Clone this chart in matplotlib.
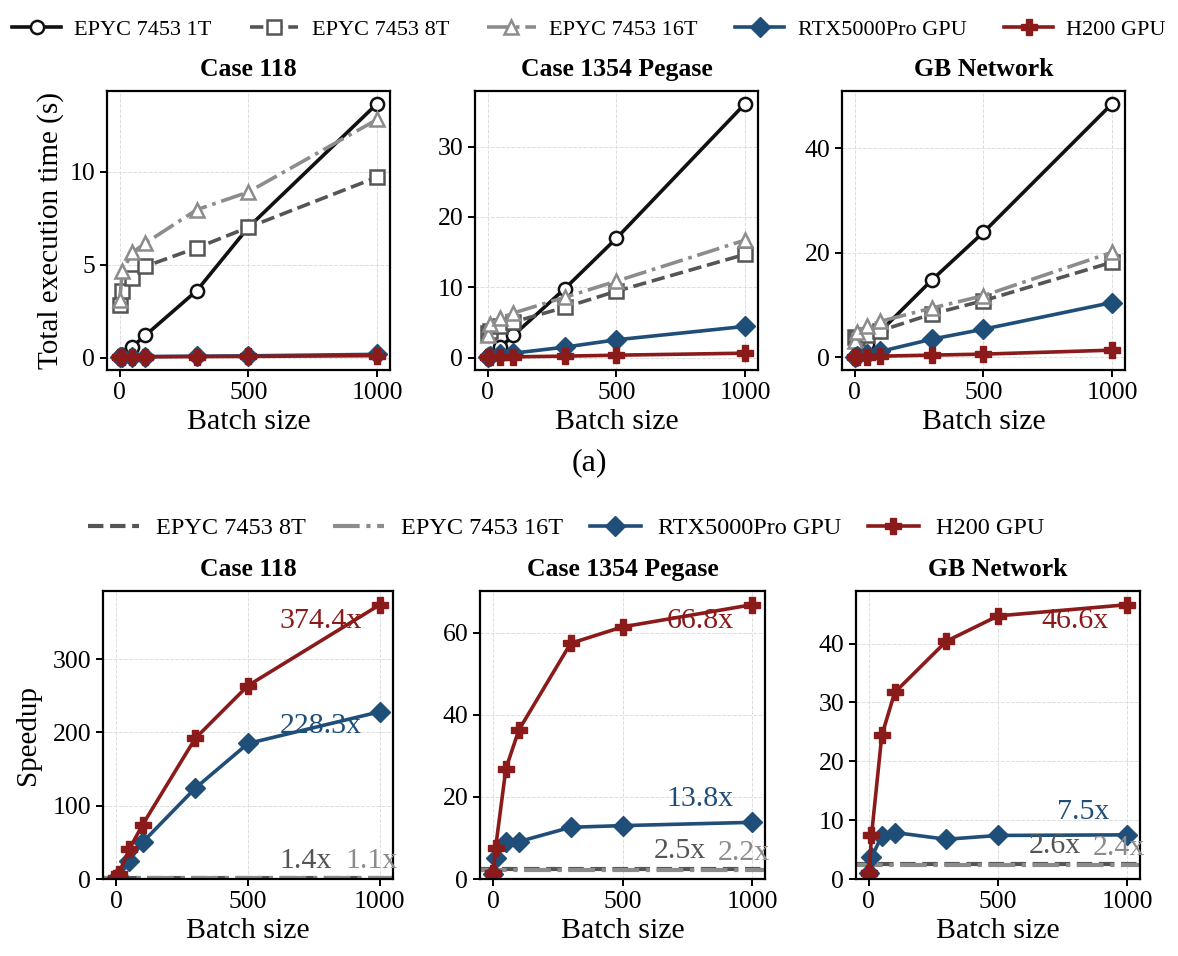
import numpy as np
import matplotlib
matplotlib.use("Agg")
from matplotlib import pyplot as plt
from matplotlib.ticker import MultipleLocator

plt.rcParams['font.family'] = 'serif'
plt.rcParams['font.serif'] = ['Liberation Serif', 'DejaVu Serif']
plt.rcParams['axes.linewidth'] = 1.6

# ---- data ----
batch = [1, 10, 50, 100, 300, 500, 1000]
cases = ['Case 118', 'Case 1354 Pegase', 'GB Network']
labels = ['EPYC 7453 1T', 'EPYC 7453 8T', 'EPYC 7453 16T', 'RTX5000Pro GPU', 'H200 GPU']

# total execution time (s), one row per case
time_1t = [[0.03, 0.12, 0.59, 1.19, 3.6, 7.0, 13.65],
           [0.04, 0.3, 1.48, 3.14, 9.8, 16.95, 36.1],
           [0.05, 0.5, 2.55, 5.0, 14.8, 23.9, 48.5]]
time_8t = [[2.85, 3.6, 4.25, 4.9, 5.9, 7.0, 9.7],
           [3.5, 3.8, 4.43, 5.05, 7.14, 9.43, 14.67],
           [3.9, 3.7, 4.3, 5.1, 8.3, 10.85, 18.2]]
time_16t = [[3.1, 4.65, 5.65, 6.15, 7.95, 8.9, 12.8],
            [3.2, 4.76, 5.62, 6.33, 8.57, 10.86, 16.7],
            [3.2, 4.9, 6.06, 6.9, 9.45, 11.8, 20.1]]
time_rtx = [[0.02, 0.03, 0.04, 0.05, 0.07, 0.09, 0.17],
            [0.05, 0.2, 0.45, 0.62, 1.48, 2.52, 4.43],
            [0.05, 0.3, 0.6, 1.15, 3.5, 5.4, 10.5]]
time_h200 = [[0.01, 0.02, 0.03, 0.04, 0.05, 0.06, 0.1],
             [0.03, 0.05, 0.08, 0.1, 0.2, 0.33, 0.62],
             [0.03, 0.1, 0.15, 0.25, 0.45, 0.64, 1.4]]

# speedup over 1 thread
speed_rtx = [[0.5, 2.5, 25, 50, 124, 185, 228.3],
             [1.2, 5.0, 8.9, 9.1, 12.6, 13.0, 13.8],
             [1.0, 3.7, 7.3, 7.9, 6.75, 7.4, 7.5]]
speed_h200 = [[1.0, 7.5, 41, 74, 192, 264, 374.4],
              [1.4, 7.5, 26.9, 36.3, 57.4, 61.4, 66.8],
              [1.0, 7.4, 24.4, 31.7, 40.4, 44.7, 46.6]]
speed_8t = [1.4, 2.5, 2.6]
speed_16t = [1.1, 2.2, 2.4]

# ---- styles ----
c_1t, c_8t, c_16t = '#111111', '#555555', '#8c8c8c'
c_rtx, c_h200 = '#1f4e79', '#8b1a1a'
lw = 2.6
st_1t = dict(color=c_1t, ls='-', lw=lw, marker='o', ms=9.5, mfc='white', mec=c_1t, mew=1.8)
st_8t = dict(color=c_8t, ls='--', lw=lw, marker='s', ms=9.5, mfc='white', mec=c_8t, mew=1.8)
st_16t = dict(color=c_16t, ls='-.', lw=lw, marker='^', ms=10.5, mfc='white', mec=c_16t, mew=1.8)
st_rtx = dict(color=c_rtx, ls='-', lw=lw, marker='D', ms=10, mfc=c_rtx, mec=c_rtx)
st_h200 = dict(color=c_h200, ls='-', lw=lw, marker='P', ms=11, mfc=c_h200, mec=c_h200)

W, H = 1178, 956
fig = plt.figure(figsize=(W / 100, H / 100), dpi=100)

def px_axes(l, t, r, b):
    return fig.add_axes([l / W, 1 - b / H, (r - l) / W, (b - t) / H])

def style_ax(ax):
    ax.grid(True, color='#dddddd', ls='--', lw=0.7)
    ax.set_axisbelow(True)
    ax.tick_params(direction='out', length=5, width=1.4, labelsize=18.5)
    ax.xaxis.set_major_locator(MultipleLocator(500))
    ax.set_xlabel('Batch size', fontsize=21.5)

top_box = [(107, 91, 390, 370), (475, 91, 758, 370), (842, 91, 1125, 370)]
bot_box = [(103, 591, 393, 879), (480, 591, 765, 879), (856, 591, 1140, 879)]
top_step = [5, 10, 20]
bot_step = [100, 20, 10]
rtx_above = [False, True, True]

for i, case in enumerate(cases):
    ax = px_axes(*top_box[i])
    ax.plot(batch, time_1t[i], label=labels[0], **st_1t)
    ax.plot(batch, time_8t[i], label=labels[1], **st_8t)
    ax.plot(batch, time_16t[i], label=labels[2], **st_16t)
    ax.plot(batch, time_rtx[i], label=labels[3], **st_rtx)
    ax.plot(batch, time_h200[i], label=labels[4], **st_h200)
    style_ax(ax)
    ax.yaxis.set_major_locator(MultipleLocator(top_step[i]))
    ax.set_title(case, fontsize=18.5, fontweight='bold', pad=11)
    if i == 0:
        ax.set_ylabel('Total execution time (s)', fontsize=21)
        h_top, l_top = ax.get_legend_handles_labels()

    ax = px_axes(*bot_box[i])
    ax.axhline(speed_8t[i], color=c_8t, ls='--', lw=3.0, label=labels[1])
    ax.axhline(speed_16t[i], color=c_16t, ls='-.', lw=3.0, label=labels[2])
    ax.plot(batch, speed_rtx[i], label=labels[3], **st_rtx)
    ax.plot(batch, speed_h200[i], label=labels[4], **st_h200)
    style_ax(ax)
    ax.set_xlim(-50, 1050)
    ax.set_ylim(0, max(speed_h200[i]) * 1.05)
    ymax = ax.get_ylim()[1]
    ax.yaxis.set_major_locator(MultipleLocator(bot_step[i]))
    ax.set_title(case, fontsize=18.5, fontweight='bold', pad=11)

    fs = 21.5
    ax.text(930, speed_h200[i][-1] - 0.055 * ymax, f'{speed_h200[i][-1]:.1f}x',
            color=c_h200, ha='right', va='center', fontsize=fs)
    off = 0.08 if rtx_above[i] else -0.05
    ax.text(930, speed_rtx[i][-1] + off * ymax, f'{speed_rtx[i][-1]:.1f}x',
            color=c_rtx, ha='right', va='center', fontsize=fs)
    ax.text(720, speed_8t[i] + 0.06 * ymax, f'{speed_8t[i]:.1f}x',
            color=c_8t, ha='center', va='center', fontsize=fs)
    ax.text(970, speed_16t[i] + 0.06 * ymax, f'{speed_16t[i]:.1f}x',
            color=c_16t, ha='center', va='center', fontsize=fs)
    if i == 0:
        ax.set_ylabel('Speedup', fontsize=21, labelpad=8)
        h_bot, l_bot = ax.get_legend_handles_labels()

fig.legend(h_top, l_top, loc='center', bbox_to_anchor=(0.5, 1 - 30 / H), ncol=5,
           frameon=False, fontsize=16, handlelength=2.2, handletextpad=0.6,
           columnspacing=1.7)
fig.legend(h_bot, l_bot, loc='center', bbox_to_anchor=(566 / W, 1 - 528 / H), ncol=4,
           frameon=False, fontsize=17.5, handlelength=2.1, handletextpad=0.7,
           columnspacing=1.1)
fig.text(0.5, 1 - 463 / H, '(a)', ha='center', va='center', fontsize=23)

fig.savefig('out.png', dpi=100)
